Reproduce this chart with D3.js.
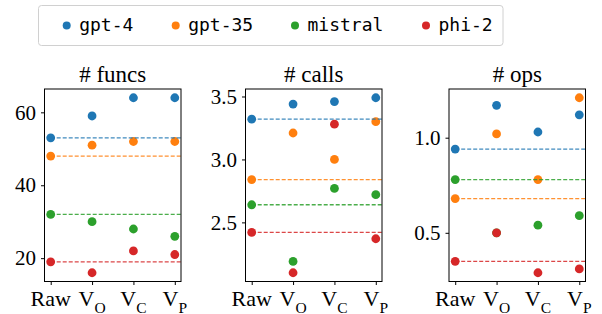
<!DOCTYPE html>
<html>
<head>
<meta charset="utf-8">
<script src="https://cdn.jsdelivr.net/npm/d3@7"></script>
<style>
  body { margin: 0; background: #fff; }
  svg text { fill: #000; }
</style>
</head>
<body>
<svg id="chart" width="602" height="314"></svg>
<script>
// data
const variants = ["Raw", "VO", "VC", "VP"];
const models = ["gpt-4", "gpt-35", "mistral", "phi-2"];
const colors = ["#1f77b4", "#ff7f0e", "#2ca02c", "#d62728"];

// rows = models, cols = variants
const funcsVals = [
  [53, 59, 64, 64],
  [48, 51, 52, 52],
  [32, 30, 28, 26],
  [19, 16, 22, 21]
];
const callsVals = [
  [3.32, 3.44, 3.46, 3.49],
  [2.84, 3.21, 3.00, 3.30],
  [2.64, 2.19, 2.77, 2.72],
  [2.42, 2.10, 3.28, 2.37]
];
const opsVals = [
  [0.94, 1.17, 1.03, 1.12],
  [0.68, 1.02, 0.78, 1.21],
  [0.78, 0.50, 0.54, 0.59],
  [0.35, 0.50, 0.29, 0.31]
];

const funcsTicks = [20, 40, 60];
const callsTicks = [2.5, 3.0, 3.5];
const opsTicks = [0.5, 1.0];

const panels = [
  {title: "# funcs", vals: funcsVals, ticks: funcsTicks, fmt: d3.format("d"), left: 44.5},
  {title: "# calls", vals: callsVals, ticks: callsTicks, fmt: d3.format(".1f"), left: 245.5},
  {title: "# ops", vals: opsVals, ticks: opsTicks, fmt: d3.format(".1f"), left: 449}
];

const svg = d3.select("#chart");
const pw = 136.5, plotTop = 89, plotBottom = 281.5;
const serif = "'Liberation Serif', 'Times New Roman', serif";

panels.forEach(p => {
  let all = p.vals.flat();
  let ext = d3.extent(all);
  let pad = (ext[1] - ext[0]) * 0.05;
  let x = d3.scaleLinear().domain([-0.15, 3.15]).range([p.left, p.left + pw]);
  let y = d3.scaleLinear().domain([ext[0] - pad, ext[1] + pad]).range([plotBottom, plotTop]);

  let g = svg.append("g");

  // dots
  p.vals.forEach((row, mi) => {
    g.selectAll(".dot" + mi)
      .data(row)
      .enter()
      .append("circle")
      .attr("cx", (d, i) => x(i))
      .attr("cy", d => y(d))
      .attr("r", 4.4)
      .style("fill", colors[mi]);
  });

  // baseline (Raw) dashed lines
  p.vals.forEach((row, mi) => {
    g.append("line")
      .attr("x1", x(0)).attr("x2", p.left + pw)
      .attr("y1", y(row[0])).attr("y2", y(row[0]))
      .style("stroke", colors[mi])
      .style("stroke-width", 1.3)
      .style("stroke-dasharray", "4,2")
      .style("opacity", 0.85);
  });

  // frame
  g.append("rect")
    .attr("x", p.left).attr("y", plotTop)
    .attr("width", pw).attr("height", plotBottom - plotTop)
    .style("fill", "none").style("stroke", "#000").style("stroke-width", 1);

  // y axis
  let yAxis = g.append("g")
    .attr("transform", `translate(${p.left},0)`)
    .call(d3.axisLeft(y).tickValues(p.ticks).tickFormat(p.fmt).tickSize(3.5).tickPadding(5));
  yAxis.select(".domain").remove();
  yAxis.selectAll("text").style("font-family", serif).style("font-size", "21px");

  // x axis
  let xAxis = g.append("g")
    .attr("transform", `translate(0,${plotBottom})`)
    .call(d3.axisBottom(x).tickValues([0, 1, 2, 3]).tickFormat("").tickSize(3.5));
  xAxis.select(".domain").remove();

  variants.forEach((v, i) => {
    let t = g.append("text")
      .attr("x", x(i))
      .attr("y", 305.5)
      .attr("text-anchor", "middle")
      .style("font-family", serif)
      .style("font-size", "22px");
    if (v === "Raw") {
      t.text("Raw");
    } else {
      t.append("tspan").text("V");
      t.append("tspan").attr("dy", 7).style("font-size", "15.5px").text(v.slice(1));
    }
  });

  // title
  g.append("text")
    .attr("x", p.left + pw / 2)
    .attr("y", 81.5)
    .attr("text-anchor", "middle")
    .style("font-family", serif)
    .style("font-size", "23px")
    .text(p.title);
});

// legend
const legend = svg.append("g");
legend.append("rect")
  .attr("x", 38.5).attr("y", 5.5)
  .attr("width", 464.5).attr("height", 40)
  .attr("rx", 3)
  .style("fill", "#fff").style("stroke", "#d0d0d0").style("stroke-width", 1);

const legendX = [66.7, 175.7, 295, 426];
models.forEach((m, i) => {
  legend.append("circle")
    .attr("cx", legendX[i]).attr("cy", 25.5)
    .attr("r", 4)
    .style("fill", colors[i]);
  legend.append("text")
    .attr("x", legendX[i] + 12.5)
    .attr("y", 31)
    .style("font-family", "'DejaVu Sans Mono', monospace")
    .style("font-size", "18px")
    .text(m);
});
</script>
</body>
</html>
